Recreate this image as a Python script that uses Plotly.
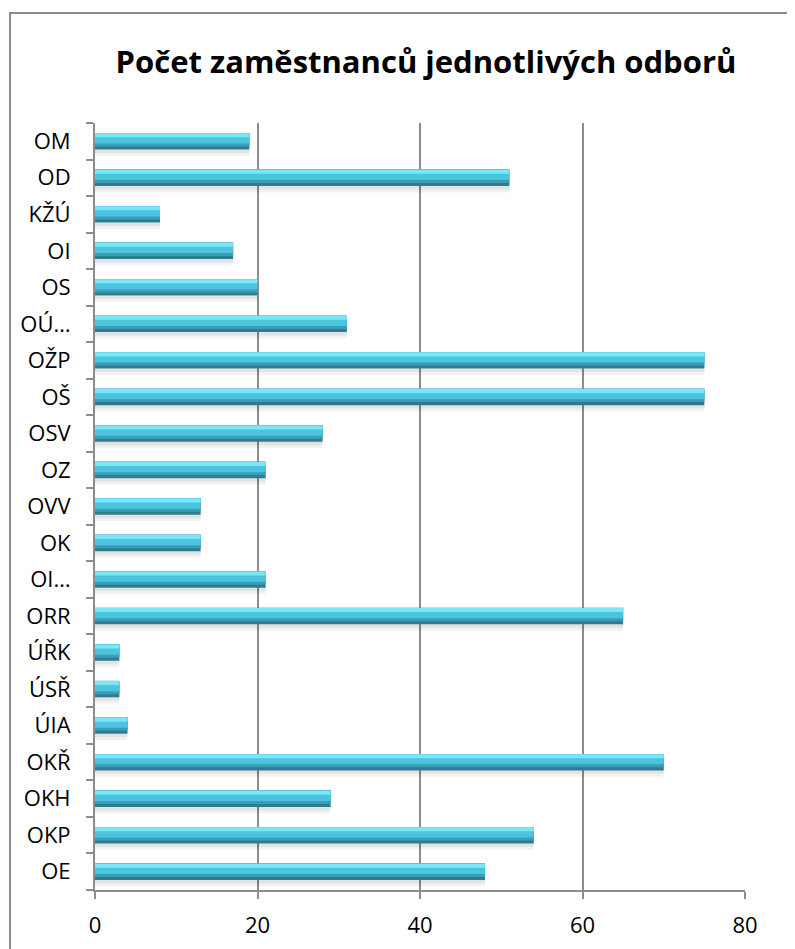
import plotly.graph_objects as go

# Categories listed bottom-to-top (as on the chart)
categories = ["OE", "OKP", "OKH", "OKŘ", "ÚIA", "ÚSŘ", "ÚŘK", "ORR", "OI…", "OK",
              "OVV", "OZ", "OSV", "OŠ", "OŽP", "OÚ…", "OS", "OI", "KŽÚ", "OD", "OM"]
values = [48, 54, 29, 70, 4, 3, 3, 65, 21, 13,
          13, 21, 28, 75, 75, 31, 20, 17, 8, 51, 19]
x_ticks = [0, 20, 40, 60, 80]
title_text = "Počet zaměstnanců jednotlivých odborů"

FONT = "Open Sans"
fig = go.Figure()

# Layers imitating the bevelled cyan bars (offsets in category units)
layers = [
    dict(offset=-0.40, width=0.18, color="rgba(0,0,0,0.05)"),   # soft shadow
    dict(offset=-0.32, width=0.10, color="rgba(0,0,0,0.06)"),   # inner shadow
    dict(offset=-0.225, width=0.45, color="#2E7C90"),           # darkest bottom
    dict(offset=-0.142, width=0.366, color="#3B9EB6"),          # darker band
    dict(offset=-0.06, width=0.284, color="#4DC4DE"),           # cyan body
    dict(offset=0.110, width=0.11, color="#78E7F9"),            # top highlight
]
for i, ly in enumerate(layers):
    fig.add_trace(go.Bar(
        x=values, y=categories, orientation="h",
        offset=ly["offset"], width=ly["width"],
        marker=dict(color=ly["color"], line=dict(width=0)),
        hoverinfo="x+y" if i == 2 else "skip",
        showlegend=False,
    ))

fig.update_layout(
    width=795, height=949,
    margin=dict(l=87, r=58, t=115, b=67),
    paper_bgcolor="white", plot_bgcolor="white",
    barmode="overlay",
    title=dict(text="<b>" + title_text + "</b>", x=418 / 795, xanchor="center",
               y=1 - 54 / 949, yanchor="middle",
               font=dict(family=FONT, size=31, color="black")),
    font=dict(family=FONT, color="black"),
    xaxis=dict(range=[0, 80], tickvals=x_ticks, showgrid=True,
               gridcolor="#8C8C8C", gridwidth=1.5,
               showline=True, linecolor="#8C8C8C", linewidth=2,
               ticks="outside", ticklen=7, tickcolor="#8C8C8C", tickwidth=2,
               ticklabelstandoff=8,
               tickfont=dict(size=22, family=FONT), zeroline=False, fixedrange=True),
    yaxis=dict(type="category", categoryorder="array", categoryarray=categories,
               range=[-0.5, len(categories) - 0.5],
               showline=True, linecolor="#8C8C8C", linewidth=2,
               ticks="outside", ticklen=7, tickcolor="#8C8C8C", tickwidth=2,
               tickson="boundaries", showgrid=False, ticklabelstandoff=18,
               tickfont=dict(size=22, family=FONT), fixedrange=True),
    shapes=[dict(type="rect", xref="paper", yref="paper",
                 x0=(10 - 95) / 650, x1=(830 - 95) / 650,
                 y0=(890 - 990) / 767, y1=(890 - 13) / 767,
                 line=dict(color="#8C8C8C", width=2), fillcolor="rgba(0,0,0,0)",
                 layer="below")],
)

fig.write_html("out.html")
